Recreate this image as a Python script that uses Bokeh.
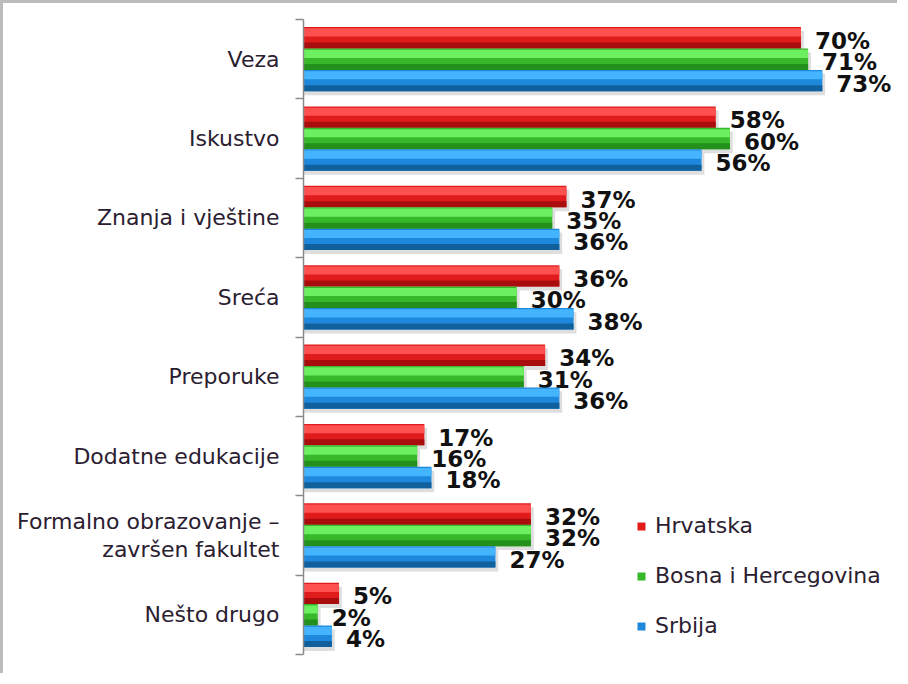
from bokeh.plotting import figure
from bokeh.models import Range1d, FixedTicker, Legend, LegendItem, ColumnDataSource
from bokeh.core.properties import value
from bokeh.embed import file_html
from bokeh.resources import INLINE

categories = ["Veza", "Iskustvo", "Znanja i vještine", "Sreća", "Preporuke",
              "Dodatne edukacije", "Formalno obrazovanje –\nzavršen fakultet", "Nešto drugo"]
series = ["Hrvatska", "Bosna i Hercegovina", "Srbija"]
hrvatska = [70, 58, 37, 36, 34, 17, 32, 5]
bih = [71, 60, 35, 30, 31, 16, 32, 2]
srbija = [73, 56, 36, 38, 36, 18, 27, 4]

# style: (light, base, dark)
palette = [("#ff5050", "#e01b1b", "#a80c0c"),
           ("#6cf060", "#36b82a", "#22901a"),
           ("#45b4ff", "#1e88dc", "#11609e")]

n = len(categories)
centers = [n - i - 0.5 for i in range(n)]
boundaries = list(range(n + 1))
h = 0.27
offsets = [h, 0.0, -h]
values_all = [hrvatska, bih, srbija]

p = figure(width=897, height=673, output_backend="svg", toolbar_location=None,
           x_range=Range1d(0, 84), y_range=Range1d(0, n),
           min_border_left=300, min_border_top=16, min_border_bottom=22, min_border_right=0)
p.styles = {"border-left": "3px solid #bcbcbc", "border-top": "3px solid #bcbcbc"}
p.xaxis.visible = False
p.xgrid.visible = False
p.ygrid.visible = False
p.outline_line_color = None
p.background_fill_color = "white"
p.border_fill_color = "white"

ax = p.yaxis[0]
ax.ticker = FixedTicker(ticks=centers, minor_ticks=boundaries)
ax.major_label_overrides = {c: lab for c, lab in zip(centers, categories)}
ax.major_tick_out = 0
ax.major_tick_in = 0
ax.minor_tick_out = 8
ax.minor_tick_in = 0
ax.minor_tick_line_color = "#8a8a8a"
ax.axis_line_color = "#8a8a8a"
ax.axis_line_width = 1.5
ax.minor_tick_line_width = 1.5
ax.major_label_standoff = 16
ax.major_label_text_font = "DejaVu Sans"
ax.major_label_text_font_size = "22px"
ax.major_label_text_color = "#2a2030"
ax.major_label_text_align = "right"
ax.major_label_text_line_height = 1.1

# shadows
for k, vals in enumerate(values_all):
    ys = [c + offsets[k] - 0.05 for c in centers]
    rights = [v + 0.4 for v in vals]
    p.hbar(y=ys, left=0, right=rights, height=h, fill_color="#000000", fill_alpha=0.13, line_color=None)

legend_items = []
for k, (name, vals) in enumerate(zip(series, values_all)):
    light, base, dark = palette[k]
    ys = [c + offsets[k] for c in centers]
    src = ColumnDataSource(dict(y=ys, right=vals, lab=[f"{v}%" for v in vals]))
    r = p.hbar(y="y", left=0, right="right", height=h, source=src, fill_color=base, line_color=None)
    legend_items.append(LegendItem(label=name, renderers=[r]))
    # light upper band
    p.hbar(y=[y + h * 0.25 for y in ys], left=0, right=vals, height=h * 0.38,
           fill_color=light, line_color=None)
    # dark lower band
    p.hbar(y=[y - h * 0.36 for y in ys], left=0, right=vals, height=h * 0.28,
           fill_color=dark, line_color=None)
    p.text(x="right", y="y", text="lab", source=src, x_offset=14, y_offset=3,
           text_font=value("DejaVu Sans"), text_font_style="bold", text_font_size="23px",
           text_color="#111111", text_baseline="middle", text_align="left")

legend = Legend(items=legend_items, location=(333, 16), orientation="vertical",
                glyph_width=10, glyph_height=10, label_height=22, spacing=25,
                label_standoff=9, padding=0, margin=0,
                background_fill_alpha=0, border_line_color=None,
                label_text_font="DejaVu Sans", label_text_font_size="22px",
                label_text_color="#2a2030")
p.add_layout(legend)

open("out.html", "w").write(file_html(p, INLINE))
